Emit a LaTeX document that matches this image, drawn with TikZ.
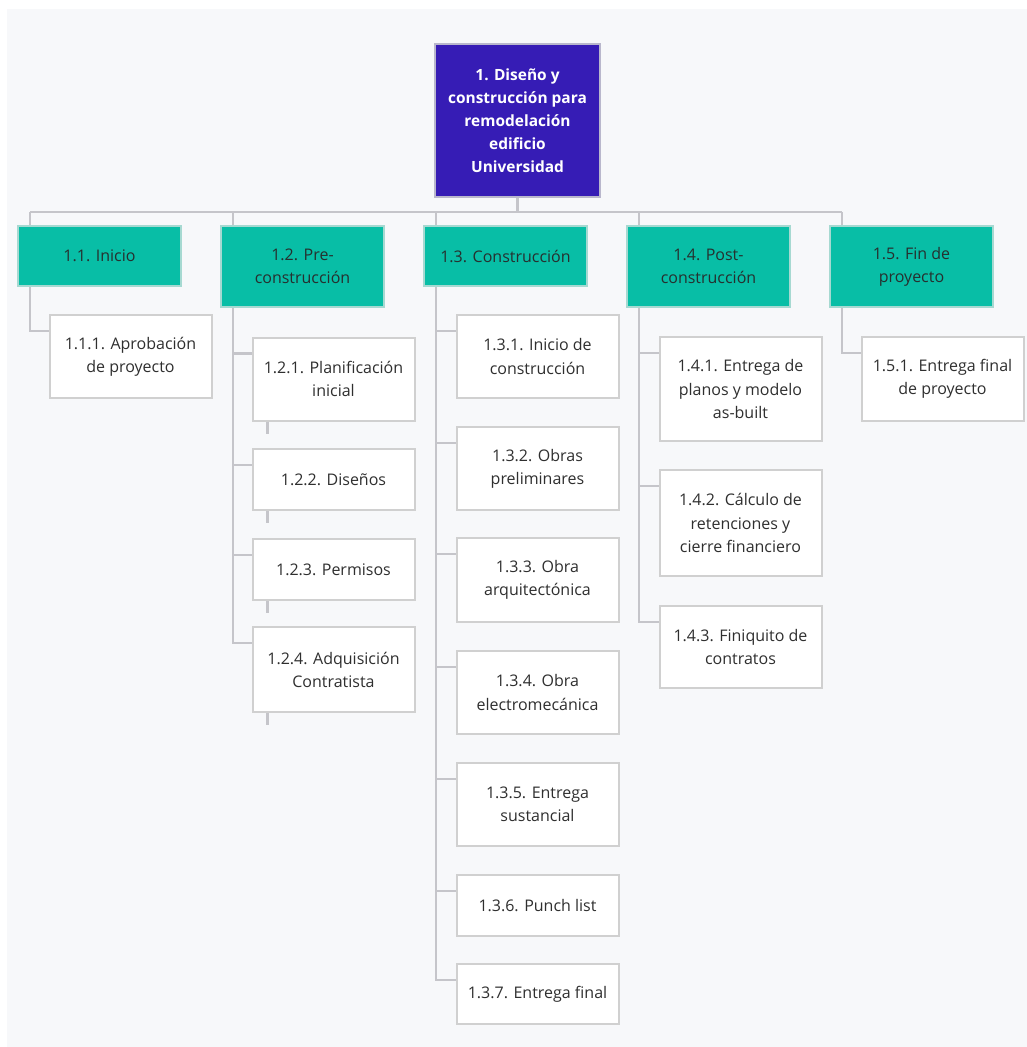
\documentclass[tikz,border=0pt]{standalone}
\usepackage{fontspec}
\setmainfont{Open Sans}
\usetikzlibrary{calc}

\definecolor{panel}{HTML}{F7F8FA}
\definecolor{rootfill}{HTML}{361CB5}
\definecolor{rootline}{HTML}{B9B7CC}
\definecolor{phase}{HTML}{08BEA6}
\definecolor{phaseline}{HTML}{A6D9D1}
\definecolor{boxline}{HTML}{D0D0D0}
\definecolor{wire}{HTML}{C5C5CA}
\definecolor{ink}{HTML}{2F2F2F}
\definecolor{phaseink}{HTML}{26302F}

\begin{document}
\begin{tikzpicture}[x=0.75pt,y=-0.75pt,
  every node/.style={rectangle, align=center, inner sep=0pt,
    font=\fontsize{12}{17.3}\selectfont, line width=1.5pt},
  rootbox/.style={draw=rootline, fill=rootfill, text=white,
    font=\fontsize{11.6}{17.3}\selectfont\bfseries,
    minimum width=165*0.75pt, minimum height=153*0.75pt},
  phasebox/.style={draw=phaseline, fill=phase, text=phaseink,
    minimum width=163*0.75pt, minimum height=#1*0.75pt},
  taskbox/.style={draw=boxline, fill=white, text=ink,
    minimum width=162*0.75pt, minimum height=#1*0.75pt},
  wire/.style={draw=wire, line width=1.6pt}]

% canvas
\fill[white] (0,0) rectangle (1027,1047);
\fill[panel] (7,9) rectangle (1027,1047);

% root
\node[rootbox] (root) at (517.5,120.5)
  {1. Diseño y\\construcción para\\remodelación\\edificio\\Universidad};

% phases
\node[phasebox=60] (n11) at (99.5,256)   {1.1. Inicio};
\node[phasebox=81] (n12) at (302.5,266.5) {1.2. Pre-\\construcción};
\node[phasebox=60] (n13) at (505.5,256)  {1.3. Construcción};
\node[phasebox=81] (n14) at (708.5,266.5) {1.4. Post-\\construcción};
\node[phasebox=81] (n15) at (911.5,266.5) {1.5. Fin de\\proyecto};

% work packages
\node[taskbox=83]  (n111) at (130.5,356.5) {1.1.1. Aprobación\\de proyecto};

\node[taskbox=83]  (n121) at (333.5,379)   {1.2.1. Planificación\\inicial};
\node[taskbox=61]  (n122) at (333.5,479.5) {1.2.2. Diseños};
\node[taskbox=61]  (n123) at (333.5,569.5) {1.2.3. Permisos};
\node[taskbox=85]  (n124) at (333.5,669.5) {1.2.4. Adquisición\\Contratista};

\node[taskbox=83]  (n131) at (537.5,356.5) {1.3.1. Inicio de\\construcción};
\node[taskbox=83]  (n132) at (537.5,468.5) {1.3.2. Obras\\preliminares};
\node[taskbox=84]  (n133) at (537.5,580)   {1.3.3. Obra\\arquitectónica};
\node[taskbox=83]  (n134) at (537.5,692.5) {1.3.4. Obra\\electromecánica};
\node[taskbox=83]  (n135) at (537.5,804.5) {1.3.5. Entrega\\sustancial};
\node[taskbox=61]  (n136) at (537.5,905.5) {1.3.6. Punch list};
\node[taskbox=60]  (n137) at (537.5,994)   {1.3.7. Entrega final};

\node[taskbox=104] (n141) at (740.5,389)   {1.4.1. Entrega de\\planos y modelo\\as-built};
\node[taskbox=106] (n142) at (740.5,523)   {1.4.2. Cálculo de\\retenciones y\\cierre financiero};
\node[taskbox=82]  (n143) at (740.5,647)   {1.4.3. Finiquito de\\contratos};

\node[taskbox=84]  (n151) at (942.5,379)   {1.5.1. Entrega final\\de proyecto};

% bus from the root to the phases
\coordinate (busL) at ($(n11.north west)+(13,-13)$);
\coordinate (busR) at ($(n15.north west)+(13,-13)$);
\draw[wire] (busL) -- (busR);
\draw[wire] (root.south) -- (root.south |- busL);
\foreach \p in {n11,n12,n13,n14,n15}
  \draw[wire] ($(\p.north west)+(13,0)$) -- ($(\p.north west)+(13,-13)$);

% phase to work package connectors
\foreach \p/\c in {n11/n111,
                   n12/n121, n12/n122, n12/n123, n12/n124,
                   n13/n131, n13/n132, n13/n133, n13/n134, n13/n135, n13/n136, n13/n137,
                   n14/n141, n14/n142, n14/n143,
                   n15/n151}
  \draw[wire] ($(\p.south west)+(13,0)$) |- ($(\c.north west)+(0,17)$);

% short stubs under the pre-construction packages
\foreach \c in {n121,n122,n123,n124}
  \draw[wire] ($(\c.south west)+(16,0)$) -- ($(\c.south west)+(16,12)$);

\end{tikzpicture}
\end{document}
